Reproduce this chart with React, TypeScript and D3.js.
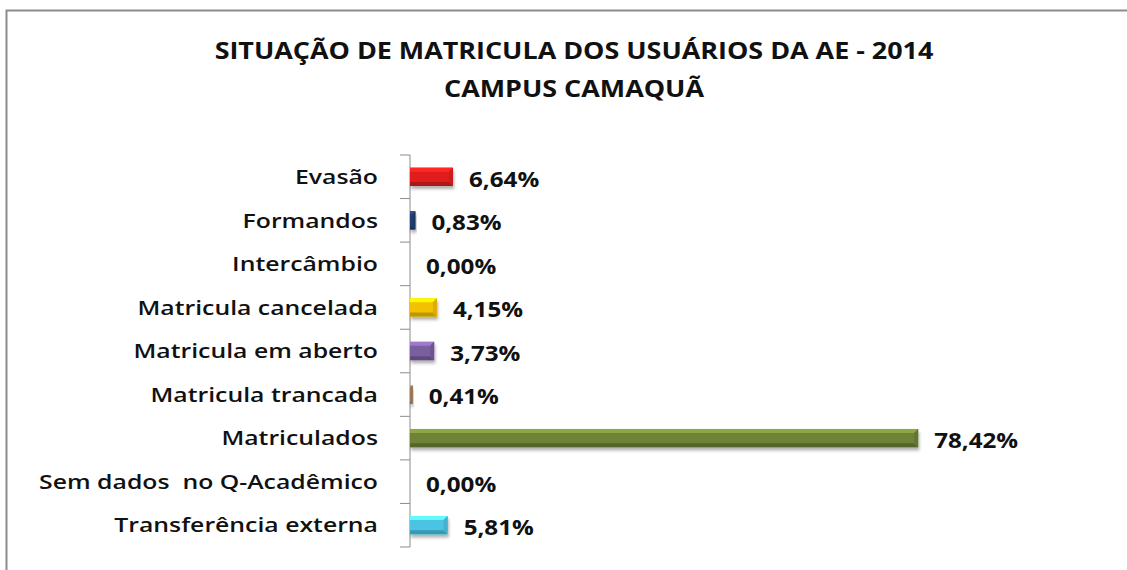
import React from 'react'
import * as d3 from 'd3'

// values (shares of the total)
const categories = [
  'Evasão',
  'Formandos',
  'Intercâmbio',
  'Matricula cancelada',
  'Matricula em aberto',
  'Matricula trancada',
  'Matriculados',
  'Sem dados  no Q-Acadêmico',
  'Transferência externa',
]
const shares = [0.0664, 0.0083, 0, 0.0415, 0.0373, 0.0041, 0.7842, 0, 0.0581]
const barColors = ['#e01f1f', '#22406e', '#888888', '#f2c200', '#7a5fa0', '#a07a5a', '#6e8237', '#888888', '#4cc3e3']
const titleLines = ['SITUAÇÃO DE MATRICULA DOS USUÁRIOS DA AE - 2014', 'CAMPUS CAMAQUÃ']

const W = 1127
const H = 570
const axisX = 410
const top = 155
const bottom = 547

const fmt = (v: number) => d3.format('.2f')(v * 100).replace('.', ',') + '%'

// the original text is rendered wider than any installed face, so stretch it a bit
function WideText({ x, y, sx, children, ...rest }: any) {
  return (
    <g transform={`translate(${x},${y}) scale(${sx},1)`}>
      <text x={0} y={0} {...rest}>{children}</text>
    </g>
  )
}

function Bar({ x0, x1, y0, h, color }: { x0: number; x1: number; y0: number; h: number; color: string }) {
  const w = x1 - x0
  if (w <= 0) return null
  const y1 = y0 + h
  const b = Math.min(4, w / 2)
  const c = d3.color(color)!
  const light = c.brighter(0.7).formatHex()
  const dark = c.darker(0.7).formatHex()
  return (
    <g filter="url(#shadow)">
      <rect x={x0} y={y0} width={w} height={h} fill={color} />
      <polygon points={`${x0},${y0} ${x1},${y0} ${x1 - b},${y0 + b} ${x0},${y0 + b}`} fill={light} />
      <polygon points={`${x0},${y1} ${x1},${y1} ${x1 - b},${y1 - b} ${x0},${y1 - b}`} fill={dark} />
      <polygon points={`${x1},${y0} ${x1},${y1} ${x1 - b},${y1 - b} ${x1 - b},${y0 + b}`} fill={c.darker(0.3).formatHex()} />
    </g>
  )
}

export default function App() {
  const x = d3.scaleLinear().domain([0, 1]).range([axisX, axisX + 648])
  const y = d3.scaleBand<string>().domain(categories).range([top, bottom]).paddingInner(0.58).paddingOuter(0.29)
  const band = d3.scaleBand<string>().domain(categories).range([top, bottom])
  const ticks = [top, ...categories.map(c => band(c)! + band.bandwidth())]

  return (
    <svg width={W} height={H} style={{ position: 'absolute', left: 0, top: 0, background: '#fff' }}
      fontFamily="'Open Sans', sans-serif">
      <defs>
        <filter id="shadow" x="-10%" y="-50%" width="130%" height="250%">
          <feDropShadow dx="1" dy="3" stdDeviation="1.5" floodColor="#000" floodOpacity="0.3" />
        </filter>
      </defs>
      <rect x={6.5} y={10.5} width={W + 10} height={H + 10} fill="#fff" stroke="#8c8c8c" strokeWidth={2} />

      {titleLines.map((t, i) => (
        <WideText key={t} x={574} y={59 + i * 38} sx={1.17} textAnchor="middle" fontSize={23} fontWeight={700} fill="#111">{t}</WideText>
      ))}

      <line x1={axisX} x2={axisX} y1={top} y2={bottom} stroke="#8c8c8c" strokeWidth={1} />
      {ticks.map((t, i) => (
        <line key={i} x1={axisX - 10} x2={axisX} y1={t} y2={t} stroke="#8c8c8c" strokeWidth={1} />
      ))}

      {categories.map((c, i) => {
        const cy = band(c)! + band.bandwidth() / 2
        return (
          <g key={c}>
            <WideText x={378} y={cy} sx={1.24} dy="0.36em" textAnchor="end" fontSize={20} fontWeight={600} fill="#111"
              style={{ whiteSpace: 'pre' }}>{c}</WideText>
            <Bar x0={x(0)} x1={x(shares[i])} y0={y(c)!} h={y.bandwidth()} color={barColors[i]} />
            <WideText x={x(shares[i]) + 16} y={cy + 2} sx={1.1} dy="0.36em" fontSize={22} fontWeight={700} fill="#111">{fmt(shares[i])}</WideText>
          </g>
        )
      })}
    </svg>
  )
}
